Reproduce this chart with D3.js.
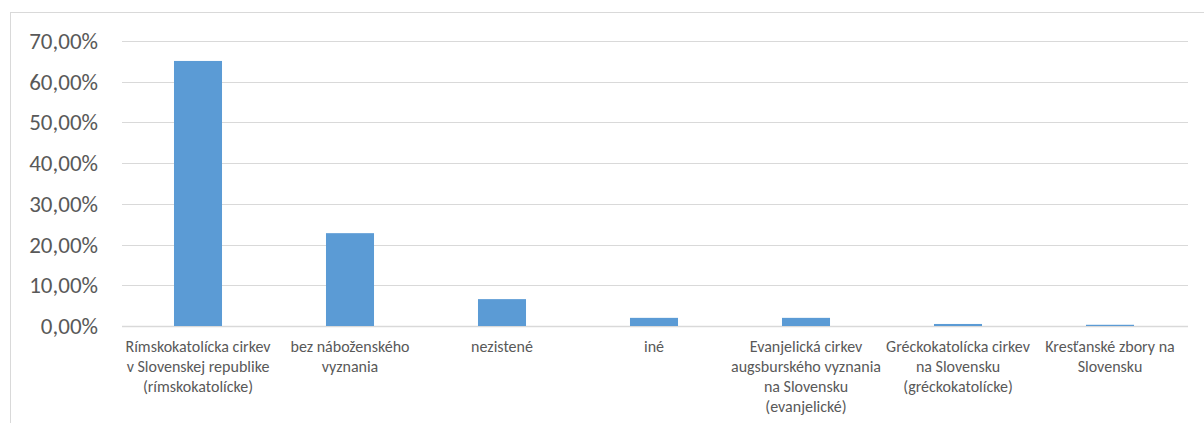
<!DOCTYPE html>
<html>
<head>
<meta charset="utf-8">
<script src="https://cdn.jsdelivr.net/npm/d3@7"></script>
<style>
  body { margin: 0; background: #fff; }
  svg text { font-family: Carlito, Calibri, "Noto Sans", sans-serif; fill: #595959; }
</style>
</head>
<body>
<svg id="chart" width="1204" height="423"></svg>
<script>
// categories (line breaks as in the original chart)
var categories = [
    "Rímskokatolícka cirkev\nv Slovenskej republike\n(rímskokatolícke)",
    "bez náboženského\nvyznania",
    "nezistené",
    "iné",
    "Evanjelická cirkev\naugsburského vyznania\nna Slovensku\n(evanjelické)",
    "Gréckokatolícka cirkev\nna Slovensku\n(gréckokatolícke)",
    "Kresťanské zbory na\nSlovensku"
];
var shares = [0.651, 0.228, 0.066, 0.020, 0.020, 0.005, 0.003];
var yTicks = [0, 0.1, 0.2, 0.3, 0.4, 0.5, 0.6, 0.7];

var svg = d3.select("#chart");

// chart frame
svg.append("rect")
    .attr("x", 10.5).attr("y", 12.5)
    .attr("width", 1220).attr("height", 430)
    .attr("fill", "none")
    .attr("stroke", "#d9d9d9");

var x = d3.scaleBand()
    .domain(categories)
    .range([122, 1186])
    .paddingInner(0.684)
    .paddingOuter(0.342);

var y = d3.scaleLinear()
    .domain([0, 0.7])
    .range([326, 41]);

var fmt = function(v) {
    return d3.format(".2f")(v * 100).replace(".", ",") + "%";
};

// gridlines
svg.append("g")
    .selectAll("line")
    .data(yTicks)
    .enter()
    .append("line")
    .attr("x1", 122).attr("x2", 1188)
    .attr("y1", function(d) { return Math.round(y(d)) + 0.5; })
    .attr("y2", function(d) { return Math.round(y(d)) + 0.5; })
    .attr("stroke", "#d9d9d9")
    .attr("stroke-width", function(d) { return d === 0 ? 1.5 : 1; });

// y labels
svg.append("g")
    .selectAll("text")
    .data(yTicks)
    .enter()
    .append("text")
    .attr("x", 98)
    .attr("y", function(d) { return y(d); })
    .attr("dy", "0.35em")
    .attr("text-anchor", "end")
    .style("font-size", "23px")
    .text(fmt);

// bars
svg.append("g")
    .selectAll("rect")
    .data(shares)
    .enter()
    .append("rect")
    .attr("x", function(d, i) { return x(categories[i]); })
    .attr("width", x.bandwidth())
    .attr("y", function(d) { return y(d); })
    .attr("height", function(d) { return y(0) - y(d); })
    .attr("fill", "#5b9bd5");

// category labels
var labels = svg.append("g")
    .selectAll("text")
    .data(categories)
    .enter()
    .append("text")
    .attr("text-anchor", "middle")
    .attr("x", function(d) { return x(d) + x.bandwidth() / 2; })
    .attr("y", 352)
    .style("font-size", "16px");

labels.each(function(d) {
    var t = d3.select(this);
    d.split("\n").forEach(function(line, k) {
        t.append("tspan")
            .attr("x", t.attr("x"))
            .attr("dy", k === 0 ? 0 : 20)
            .text(line);
    });
});
</script>
</body>
</html>
